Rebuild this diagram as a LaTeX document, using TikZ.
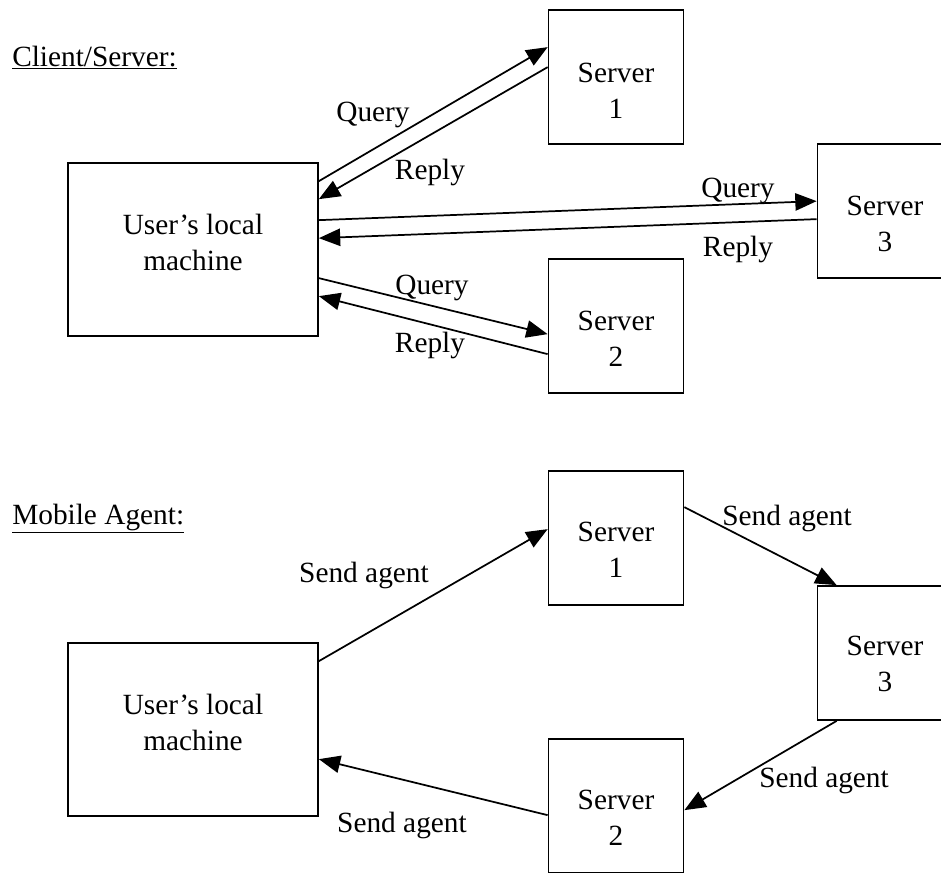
\documentclass[tikz,border=0pt]{standalone}
\usepackage{fontspec}
\setmainfont{Liberation Serif}
\usetikzlibrary{arrows.meta,calc}
\begin{document}
\begin{tikzpicture}[x=0.75pt,y=-0.75pt,
  box/.style={draw,line width=1.3pt,rectangle,inner sep=0pt},
  srv/.style={box,minimum width=101.25pt,minimum height=100.5pt},
  usr/.style={box,minimum width=187.5pt,minimum height=129.75pt},
  txt/.style={font=\fontsize{22}{27}\selectfont,align=center,inner sep=0pt},
  lbl/.style={font=\fontsize{22}{27}\selectfont,inner sep=0pt},
  conn/.style={line width=1.3pt,-{Triangle[length=16pt,width=13pt]}},
]
\useasboundingbox (0,0) rectangle (941,872);
\clip (0,0) rectangle (941,872);

% ---------------- Client/Server ----------------
\node[lbl,anchor=base west] (cshead) at (12,66) {\underline{Client/Server:}};

\node[srv] (s1a) at (616,77) {};
\node[txt] (s1at) at ($(s1a.north)+(0,82)$) {Server\\1};
\node[usr] (ua) at (193,249.5) {};
\node[txt] (uat) at ($(ua.north)+(0,80)$) {User’s local\\machine};
\node[srv] (s3a) at (885,211) {};
\node[txt] (s3at) at ($(s3a.north)+(0,81)$) {Server\\3};
\node[srv] (s2a) at (616,326) {};
\node[txt] (s2at) at ($(s2a.north)+(0,81)$) {Server\\2};

\draw[conn] ($(ua.north east)+(0,19)$) -- ($(s1a.north west)+(0,38)$);
\draw[conn] ($(s1a.north west)+(0,58)$) -- ($(ua.north east)+(0,37)$);
\draw[conn] ($(ua.north east)+(0,58)$) -- ($(s3a.north west)+(0,58)$);
\draw[conn] ($(s3a.north west)+(0,76)$) -- ($(ua.north east)+(0,76)$);
\draw[conn] ($(ua.north east)+(0,116)$) -- ($(s2a.north west)+(0,76)$);
\draw[conn] ($(s2a.north west)+(0,96)$) -- ($(ua.north east)+(0,134)$);

\node[lbl] (q1) at (373,115) {Query};
\node[lbl] (r1) at (430,172) {Reply};
\node[lbl] (q3) at (738,191) {Query};
\node[lbl] (r3) at (738,249) {Reply};
\node[lbl] (q2) at (432,288) {Query};
\node[lbl] (r2) at (430,345) {Reply};

% ---------------- Mobile Agent ----------------
\node[lbl,anchor=base west] (mahead) at (12,524) {\underline{Mobile Agent:}};

\node[srv] (s1b) at (616,538) {};
\node[txt] (s1bt) at ($(s1b.north)+(0,80)$) {Server\\1};
\node[usr] (ub) at (193,729.5) {};
\node[txt] (ubt) at ($(ub.north)+(0,80)$) {User’s local\\machine};
\node[srv] (s3b) at (885,653) {};
\node[txt] (s3bt) at ($(s3b.north)+(0,79)$) {Server\\3};
\node[srv] (s2b) at (616,806) {};
\node[txt] (s2bt) at ($(s2b.north)+(0,80)$) {Server\\2};

\draw[conn] ($(ub.north east)+(0,19)$) -- ($(s1b.north west)+(0,59)$);
\draw[conn] ($(s1b.north east)+(0,37)$) -- ($(s3b.north west)+(20,0)$);
\draw[conn] ($(s3b.south west)+(20,0)$) -- ($(s2b.north east)+(0,72)$);
\draw[conn] ($(s2b.north west)+(0,77)$) -- ($(ub.north east)+(0,117)$);

\node[lbl] (sa1) at (364,575) {Send agent};
\node[lbl] (sa2) at (787,518) {Send agent};
\node[lbl] (sa3) at (824,780) {Send agent};
\node[lbl] (sa4) at (402,825) {Send agent};
\end{tikzpicture}
\end{document}
